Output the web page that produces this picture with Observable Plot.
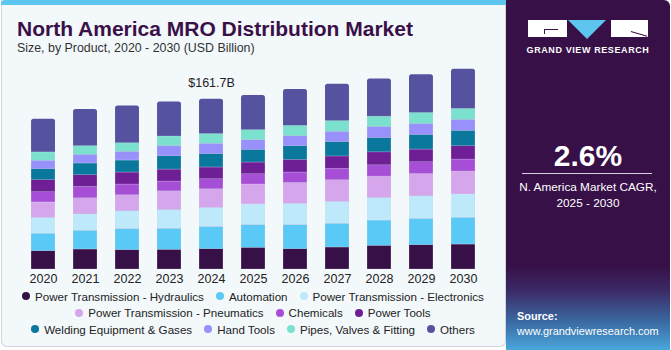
<!DOCTYPE html>
<html>
<head>
<meta charset="utf-8">
<script src="https://cdn.jsdelivr.net/npm/d3@7"></script>
<script src="https://cdn.jsdelivr.net/npm/@observablehq/plot@0.6"></script>
<style>
  body { margin: 0; background: #ffffff; font-family: "Liberation Sans", Arial, sans-serif; }
  #card { position: relative; width: 671px; height: 350px; overflow: hidden; background: #ffffff; }
  #left { position: absolute; left: 1px; top: 0; width: 503px; height: 346px; background: #f3f8fb;
          border: 1px solid #cfd5d9; border-top: none; border-radius: 0 0 6px 6px; }
  #strip { position: absolute; left: 1px; top: 0; width: 505px; height: 5px; background: #5cc6ef; border-radius: 4px 0 0 0; }
  #title { position: absolute; left: 17px; top: 16.5px; font-size: 21px; font-weight: 900; color: #3a1048; white-space: nowrap; }
  #subtitle { position: absolute; left: 17px; top: 41px; font-size: 12.4px; color: #333; white-space: nowrap; }
  #chart { position: absolute; left: 0; top: 60px; }
  #legend { position: absolute; left: 3px; top: 288px; width: 500px; font-size: 11.6px; color: #222; }
  .row { display: flex; justify-content: center; height: 16.5px; align-items: center; white-space: nowrap; }
  .item { display: flex; align-items: center; margin: 0 6px; }
  .dot { width: 8px; height: 8px; border-radius: 50%; margin-right: 5px; }
  #right { position: absolute; left: 506px; top: 0; width: 164px; height: 350px; border-radius: 0 6px 0 0;
           background: linear-gradient(to bottom, #371047 0%, #371047 76%, #3b2a66 83%, #3b6aa3 92%, #49a7db 100%); color: #fff; }
  .lg { position: absolute; }
  #gvr { position: absolute; left: 0; top: 45px; width: 164px; text-align: center; font-size: 9px; font-weight: bold; letter-spacing: 0.6px; white-space: nowrap; }
  #cagr { position: absolute; left: 0; top: 139px; width: 164px; text-align: center; font-size: 30px; font-weight: bold; }
  #rule { position: absolute; left: 16px; top: 173px; width: 130px; height: 1px; background: #d8cfe0; }
  #cagrtxt { position: absolute; left: 0; top: 179px; width: 164px; text-align: center; font-size: 11.8px; line-height: 16px; white-space: nowrap; }
  #src { position: absolute; left: 11px; top: 309px; font-size: 10.9px; line-height: 15px; white-space: nowrap; }
</style>
</head>
<body>
<div id="card">
  <div id="left"></div>
  <div id="strip"></div>
  <div id="title">North America MRO Distribution Market</div>
  <div id="subtitle">Size, by Product, 2020 - 2030 (USD Billion)</div>
  <div id="chart"></div>
  <div id="legend"></div>
  <div id="right">
    <div class="lg" style="left:22px;top:20px;width:39px;height:17px;background:#ffffff"></div>
    <div class="lg" style="left:38px;top:29px;width:14px;height:1px;background:#371047"></div>
    <div class="lg" style="left:38px;top:29px;width:1px;height:5px;background:#371047"></div>
    <div class="lg" style="left:62px;top:20px;width:0;height:0;border-left:19px solid transparent;border-right:19px solid transparent;border-top:19px solid #5cc6ef"></div>
    <div class="lg" style="left:105px;top:20px;width:37px;height:17px;background:#ffffff"></div>
    <div class="lg" style="left:125px;top:31px;width:17px;height:1px;background:#371047;transform:rotate(16deg);transform-origin:0 0"></div>
    <div id="gvr">GRAND VIEW RESEARCH</div>
    <div id="cagr">2.6%</div>
    <div id="rule"></div>
    <div id="cagrtxt">N. America Market CAGR,<br>2025 - 2030</div>
    <div id="src"><b>Source:</b><br>www.grandviewresearch.com</div>
  </div>
</div>
<script>
const years = ["2020","2021","2022","2023","2024","2025","2026","2027","2028","2029","2030"];
const categories = [
  "Power Transmission - Hydraulics", "Automation", "Power Transmission - Electronics",
  "Power Transmission - Pneumatics", "Chemicals", "Power Tools",
  "Welding Equipment & Gases", "Hand Tools", "Pipes, Valves & Fitting", "Others"
];
const colors = ["#371047", "#5bc9f5", "#bde9fa", "#d5a6ec", "#a64fd6", "#6e1f96", "#0a779d", "#9891fb", "#7ce0cf", "#5553a0"];

const hydraulics  = [17.4, 19.0, 18.4, 18.7, 19.3, 20.6, 19.3, 20.9, 22.5, 23.1, 23.7];
const automation  = [16.5, 17.7, 19.9, 19.9, 20.9, 21.5, 22.8, 22.5, 24.0, 24.7, 25.3];
const electronics = [15.2, 15.8, 17.1, 18.0, 18.4, 19.6, 20.3, 20.9, 21.5, 21.8, 22.2];
const pneumatics  = [14.6, 15.2, 15.2, 17.7, 17.7, 19.0, 19.9, 20.6, 20.2, 21.2, 21.8];
const chemicals   = [ 9.8, 10.8, 10.1,  9.2,  9.5,  9.8,  9.8, 10.8, 10.8, 11.1, 11.4];
const powerTools  = [11.4, 11.1, 11.4, 11.4, 11.1, 11.1, 12.0, 11.7, 12.3, 12.0, 12.7];
const welding     = [10.4, 11.1, 11.4, 12.7, 12.7, 12.0, 13.0, 13.6, 13.6, 13.9, 14.6];
const handTools   = [ 7.9,  8.2,  8.2,  9.5,  9.8,  9.2,  9.5,  9.8, 10.4, 10.4, 10.4];
const pipes       = [ 8.0,  8.2,  8.2,  9.2,  9.2,  9.5,  9.8, 10.1,  9.8, 10.4, 10.4];
const others      = [31.6, 34.8, 35.4, 32.9, 33.2, 32.9, 34.5, 35.1, 35.8, 36.4, 37.7];

const series = [hydraulics, automation, electronics, pneumatics, chemicals, powerTools, welding, handTools, pipes, others];
const annotationYear = "2024";
const annotationText = "$161.7B";

const rows = [];
years.forEach((yr, i) => categories.forEach((c, j) => rows.push({year: yr, category: c, value: series[j][i], order: j})));
const totals = years.map((yr, i) => ({year: yr, total: d3.sum(series, s => s[i])}));
const nonOthers = rows.filter(d => d.category !== "Others");

const chart = Plot.plot({
  width: 500,
  height: 230,
  marginTop: 10,
  marginBottom: 21,
  marginLeft: 13,
  marginRight: 7,
  style: {background: "transparent", fontFamily: "Liberation Sans, Arial, sans-serif", fontSize: "12.5px", color: "#222"},
  x: {domain: years, padding: 0.43, round: false, label: null, tickSize: 0, tickPadding: 5},
  y: {domain: [0, 189], axis: null},
  color: {domain: categories, range: colors},
  marks: [
    Plot.barY(totals, {x: "year", y: "total", fill: colors[colors.length - 1], rx: 2.5}),
    Plot.barY(nonOthers, Plot.stackY({order: "order"}, {x: "year", y: "value", fill: "category", stroke: "#ffffff", strokeOpacity: 0.35, strokeWidth: 0.6})),
    Plot.text(totals.filter(d => d.year === annotationYear), {x: "year", y: "total", text: () => annotationText, dy: -16, fill: "#222", fontSize: 12.5})
  ]
});
document.getElementById("chart").appendChild(chart);

const legend = document.getElementById("legend");
const legendRows = [[0, 1, 2], [3, 4, 5], [6, 7, 8, 9]];
legendRows.forEach(r => {
  const row = document.createElement("div");
  row.className = "row";
  r.forEach(j => {
    const item = document.createElement("div");
    item.className = "item";
    const dot = document.createElement("span");
    dot.className = "dot";
    dot.style.background = colors[j];
    const label = document.createElement("span");
    label.textContent = categories[j];
    item.appendChild(dot);
    item.appendChild(label);
    row.appendChild(item);
  });
  legend.appendChild(row);
});
</script>
</body>
</html>
